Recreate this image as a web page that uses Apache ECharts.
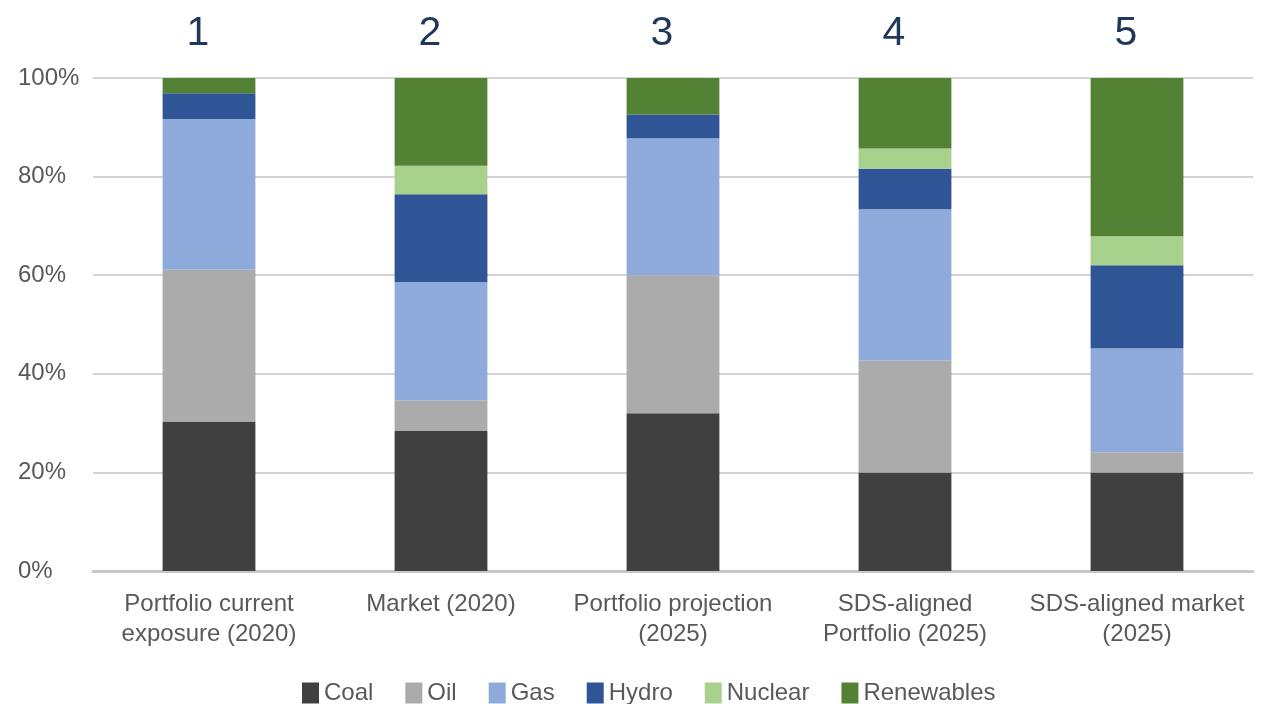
<!DOCTYPE html>
<html>
<head>
<meta charset="utf-8">
<script src="https://cdn.jsdelivr.net/npm/echarts@6/dist/echarts.min.js"></script>
<style>
html, body { margin: 0; padding: 0; background: #fff; }
#chart { width: 1271px; height: 704px; }
</style>
</head>
<body>
<div id="chart"></div>
<script>
// Energy mix by scenario (share of total, %)
const categories = [
  'Portfolio current\nexposure (2020)',
  'Market (2020)',
  'Portfolio projection\n(2025)',
  'SDS-aligned\nPortfolio (2025)',
  'SDS-aligned market\n(2025)'
];
const columnNumbers = ['1', '2', '3', '4', '5'];

const coal       = [30.3, 28.4, 32.0, 20.0, 20.0];
const oil        = [30.8,  6.2, 28.0, 22.7,  4.1];
const gas        = [30.6, 24.0, 27.8, 30.7, 21.1];
const hydro      = [ 5.2, 17.8,  4.8,  8.2, 16.8];
const nuclear    = [ 0.0,  5.8,  0.0,  4.1,  5.9];
const renewables = [ 3.1, 17.8,  7.4, 14.3, 32.1];

const yTicks = [0, 20, 40, 60, 80, 100];

const seriesDefs = [
  { name: 'Coal', data: coal, color: '#404040' },
  { name: 'Oil', data: oil, color: '#ababab' },
  { name: 'Gas', data: gas, color: '#8eaadb' },
  { name: 'Hydro', data: hydro, color: '#2f5597' },
  { name: 'Nuclear', data: nuclear, color: '#a9d18e' },
  { name: 'Renewables', data: renewables, color: '#548235' }
];

const font = 'Liberation Sans, Arial, sans-serif';
const chart = echarts.init(document.getElementById('chart'));

chart.setOption({
  animation: false,
  backgroundColor: '#ffffff',
  grid: { left: 93, right: 18, top: 78, bottom: 133 },
  legend: {
    bottom: -6,
    left: 297,
    itemWidth: 17,
    itemHeight: 21,
    itemGap: 32,
    icon: 'rect',
    textStyle: { fontFamily: font, fontSize: 24, color: '#595959', padding: [0, 0, 0, 0] },
    data: seriesDefs.map(s => s.name)
  },
  xAxis: [
    {
      type: 'category',
      data: categories,
      position: 'bottom',
      axisLine: { show: true, lineStyle: { color: '#c8c8c8', width: 3 } },
      axisTick: { show: false },
      axisLabel: {
        fontFamily: font, fontSize: 24, color: '#595959',
        lineHeight: 30, margin: 18, interval: 0
      }
    },
    {
      type: 'category',
      data: columnNumbers,
      position: 'top',
      axisLine: { show: false },
      axisTick: { show: false },
      axisLabel: {
        fontFamily: font, fontSize: 41, color: '#1f3759',
        margin: 24, padding: [0, 22, 0, 0], interval: 0
      }
    }
  ],
  yAxis: {
    type: 'value',
    min: 0,
    max: 100,
    interval: 20,
    axisLine: { show: false },
    axisTick: { show: false },
    axisLabel: {
      fontFamily: font, fontSize: 24, color: '#595959',
      align: 'left', margin: 75,
      formatter: v => (yTicks.includes(v) ? v + '%' : '')
    },
    splitLine: { lineStyle: { color: '#d3d3d3', width: 2 } }
  },
  series: seriesDefs.map(s => ({
    name: s.name,
    type: 'bar',
    stack: 'mix',
    xAxisIndex: 0,
    barWidth: '40%',
    data: s.data,
    itemStyle: { color: s.color }
  }))
});
</script>
</body>
</html>
